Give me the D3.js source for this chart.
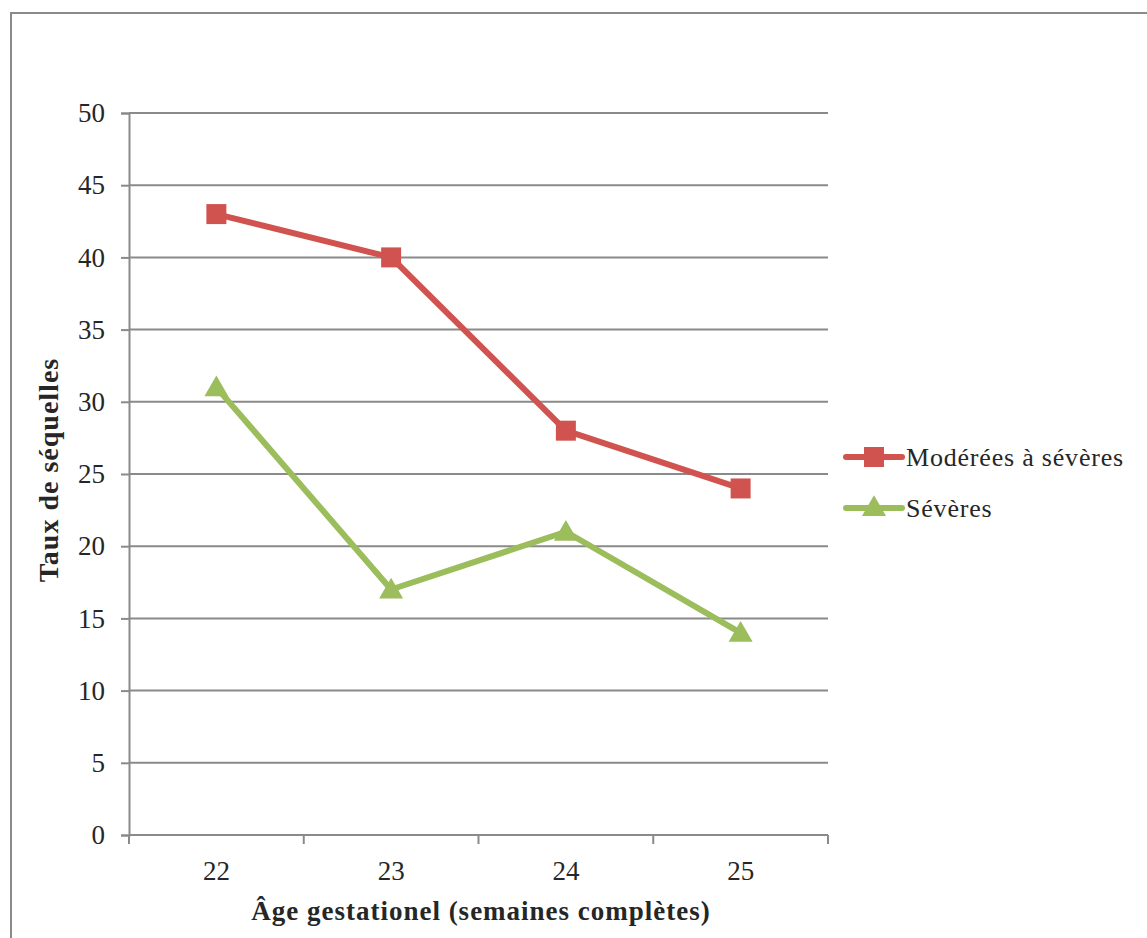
<!DOCTYPE html>
<html>
<head>
<meta charset="utf-8">
<script src="https://cdnjs.cloudflare.com/ajax/libs/d3/7.8.5/d3.min.js"></script>
<style>
  html, body { margin: 0; padding: 0; background: #fff; }
  svg { display: block; }
  text { fill: #262626; }
  .lbl { font-family: "Liberation Serif", serif; }
  .ttl { font-family: "Liberation Serif", serif; font-weight: bold; }
</style>
</head>
<body>
<script>
// Gestational age (completed weeks)
const categories = ["22", "23", "24", "25"];
// Rate of sequelae per series
const seriesNames = ["Modérées à sévères", "Sévères"];
const moderateToSevere = [43, 40, 28, 24];
const severe = [31, 17, 21, 14];
const yTicks = [0, 5, 10, 15, 20, 25, 30, 35, 40, 45, 50];

const W = 1147, H = 938;
const colors = ["#D0534F", "#9CBD5B"];
const gridColor = "#8a8a8a";

const svg = d3.select("body").append("svg").attr("width", W).attr("height", H);

// outer chart frame
svg.append("rect")
  .attr("x", 11).attr("y", 13).attr("width", W + 20).attr("height", H + 20)
  .attr("fill", "none").attr("stroke", gridColor).attr("stroke-width", 2);

const plot = { left: 129, right: 828, top: 113, bottom: 835 };

const x = d3.scaleBand().domain(categories).range([plot.left, plot.right]).padding(0);
const y = d3.scaleLinear().domain([0, 50]).range([plot.bottom, plot.top]);

// horizontal gridlines
svg.append("g").selectAll("line").data(yTicks.filter(t => t > 0)).join("line")
  .attr("x1", plot.left).attr("x2", plot.right)
  .attr("y1", d => y(d)).attr("y2", d => y(d))
  .attr("stroke", gridColor).attr("stroke-width", 2);

// y axis
const yAxis = svg.append("g").attr("transform", `translate(${plot.left},0)`)
  .call(d3.axisLeft(y).tickValues(yTicks).tickSize(8).tickPadding(16));
yAxis.attr("font-family", null).attr("font-size", null);
yAxis.select(".domain").attr("stroke", gridColor).attr("stroke-width", 2);
yAxis.selectAll(".tick line").attr("stroke", gridColor).attr("stroke-width", 2);
yAxis.selectAll(".tick text").attr("class", "lbl").attr("font-size", 27).attr("fill", "#262626");

// x axis: ticks at category boundaries, labels at centers
const xAxisG = svg.append("g").attr("transform", `translate(0,${plot.bottom})`);
xAxisG.append("line").attr("x1", plot.left).attr("x2", plot.right)
  .attr("stroke", gridColor).attr("stroke-width", 2);
const bounds = categories.map(c => x(c)).concat([x(categories[categories.length - 1]) + x.bandwidth()]);
xAxisG.selectAll("line.tk").data(bounds).join("line").attr("class", "tk")
  .attr("x1", d => d).attr("x2", d => d).attr("y1", 0).attr("y2", 9)
  .attr("stroke", gridColor).attr("stroke-width", 2);
xAxisG.selectAll("text").data(categories).join("text")
  .attr("class", "lbl")
  .attr("x", d => x(d) + x.bandwidth() / 2).attr("y", 45)
  .attr("text-anchor", "middle").attr("font-size", 27).text(d => d);

// axis titles
svg.append("text").attr("class", "ttl")
  .attr("x", 481).attr("y", 920).attr("text-anchor", "middle")
  .attr("font-size", 27).attr("letter-spacing", 1).text("Âge gestationel (semaines complètes)");
svg.append("text").attr("class", "ttl")
  .attr("transform", "translate(58,470) rotate(-90)").attr("text-anchor", "middle")
  .attr("font-size", 28).attr("letter-spacing", 1).text("Taux de séquelles");

// series lines and markers
const cx = c => x(c) + x.bandwidth() / 2;
const line = d3.line().x((d, i) => cx(categories[i])).y(d => y(d));
const allSeries = [moderateToSevere, severe];

allSeries.forEach((vals, si) => {
  svg.append("path").datum(vals).attr("d", line)
    .attr("fill", "none").attr("stroke", colors[si]).attr("stroke-width", 6)
    .attr("stroke-linejoin", "round");
});

const square = d3.symbol().type(d3.symbolSquare).size(400);
const triangle = d3.symbol().type(d3.symbolTriangle).size(250);
svg.append("g").selectAll("path").data(moderateToSevere).join("path")
  .attr("d", square).attr("fill", colors[0])
  .attr("transform", (d, i) => `translate(${cx(categories[i])},${y(d)})`);
svg.append("g").selectAll("path").data(severe).join("path")
  .attr("d", triangle).attr("fill", colors[1])
  .attr("transform", (d, i) => `translate(${cx(categories[i])},${y(d) + 2})`);

// legend
const legend = svg.append("g");
const legendY = [457, 508];
seriesNames.forEach((name, i) => {
  const g = legend.append("g").attr("transform", `translate(846,${legendY[i]})`);
  g.append("line").attr("x1", 0).attr("x2", 56).attr("stroke", colors[i])
    .attr("stroke-width", 6).attr("stroke-linecap", "round");
  g.append("path").attr("d", i === 0 ? square : triangle).attr("fill", colors[i])
    .attr("transform", `translate(28,${i === 0 ? 0 : 1})`);
  g.append("text").attr("class", "lbl").attr("x", 60).attr("y", 9)
    .attr("font-size", 26).attr("letter-spacing", 0.8).text(name);
});
</script>
</body>
</html>
